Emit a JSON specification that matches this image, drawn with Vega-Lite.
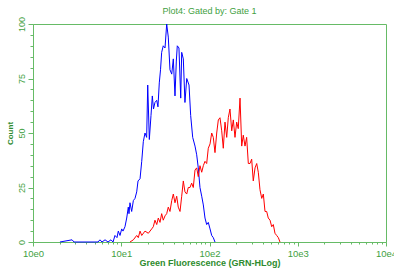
{
  "$schema": "https://vega.github.io/schema/vega-lite/v6.json",
  "width": 353,
  "height": 218,
  "autosize": {"type": "none"},
  "padding": {"left": 33, "top": 24, "right": 8, "bottom": 27},
  "background": "white",
  "title": {"text": "Plot4:  Gated by: Gate 1", "color": "#3f9f3f", "fontSize": 9, "fontWeight": "normal", "font": "Liberation Sans", "offset": 0},
  "config": {
    "view": {"stroke": "#66bb66", "strokeWidth": 1},
    "axis": {"domainColor": "#66bb66", "tickColor": "#66bb66", "labelColor": "#3f9f3f", "titleColor": "#2e8b2e", "labelFont": "Liberation Sans", "titleFont": "Liberation Sans", "grid": false, "zindex": 1}
  },
  "data": {"values": [
    {"series": "A", "fl": 2.02, "count": 0}, {"series": "A", "fl": 2.77, "count": 1}, {"series": "A", "fl": 2.92, "count": 0},
    {"series": "A", "fl": 5.45, "count": 0}, {"series": "A", "fl": 5.74, "count": 1}, {"series": "A", "fl": 6.05, "count": 0},
    {"series": "A", "fl": 6.55, "count": 1}, {"series": "A", "fl": 7.08, "count": 0}, {"series": "A", "fl": 7.65, "count": 1},
    {"series": "A", "fl": 8.07, "count": 0}, {"series": "A", "fl": 8.49, "count": 3}, {"series": "A", "fl": 8.95, "count": 2},
    {"series": "A", "fl": 9.26, "count": 5}, {"series": "A", "fl": 9.68, "count": 3}, {"series": "A", "fl": 10.12, "count": 6},
    {"series": "A", "fl": 10.47, "count": 5}, {"series": "A", "fl": 11.02, "count": 7}, {"series": "A", "fl": 11.53, "count": 11},
    {"series": "A", "fl": 12.02, "count": 16}, {"series": "A", "fl": 12.24, "count": 13}, {"series": "A", "fl": 12.56, "count": 18},
    {"series": "A", "fl": 13.13, "count": 14}, {"series": "A", "fl": 13.71, "count": 19}, {"series": "A", "fl": 14.32, "count": 20},
    {"series": "A", "fl": 14.97, "count": 23}, {"series": "A", "fl": 15.49, "count": 28}, {"series": "A", "fl": 16.33, "count": 29},
    {"series": "A", "fl": 17.06, "count": 37}, {"series": "A", "fl": 17.78, "count": 46}, {"series": "A", "fl": 18.58, "count": 50},
    {"series": "A", "fl": 19.41, "count": 48}, {"series": "A", "fl": 19.95, "count": 72}, {"series": "A", "fl": 20.8, "count": 47},
    {"series": "A", "fl": 21.73, "count": 58}, {"series": "A", "fl": 22.49, "count": 67}, {"series": "A", "fl": 23.19, "count": 61},
    {"series": "A", "fl": 24.1, "count": 64}, {"series": "A", "fl": 25.23, "count": 65}, {"series": "A", "fl": 26.06, "count": 62},
    {"series": "A", "fl": 26.98, "count": 73}, {"series": "A", "fl": 27.86, "count": 79}, {"series": "A", "fl": 28.71, "count": 87},
    {"series": "A", "fl": 29.92, "count": 90}, {"series": "A", "fl": 31.33, "count": 89}, {"series": "A", "fl": 32.73, "count": 100},
    {"series": "A", "fl": 34.12, "count": 94}, {"series": "A", "fl": 35.66, "count": 79}, {"series": "A", "fl": 37.33, "count": 77},
    {"series": "A", "fl": 38.9, "count": 84}, {"series": "A", "fl": 40.64, "count": 67}, {"series": "A", "fl": 42.07, "count": 83},
    {"series": "A", "fl": 43.15, "count": 90}, {"series": "A", "fl": 45.08, "count": 89}, {"series": "A", "fl": 47.2, "count": 66},
    {"series": "A", "fl": 48.4, "count": 87}, {"series": "A", "fl": 50.5, "count": 84}, {"series": "A", "fl": 52.7, "count": 64},
    {"series": "A", "fl": 55.2, "count": 75}, {"series": "A", "fl": 58.6, "count": 72}, {"series": "A", "fl": 61.2, "count": 58},
    {"series": "A", "fl": 64.5, "count": 48}, {"series": "A", "fl": 68.5, "count": 44}, {"series": "A", "fl": 71.6, "count": 40},
    {"series": "A", "fl": 74.6, "count": 34}, {"series": "A", "fl": 78.0, "count": 25}, {"series": "A", "fl": 81.6, "count": 21},
    {"series": "A", "fl": 85.1, "count": 17}, {"series": "A", "fl": 88.9, "count": 11}, {"series": "A", "fl": 92.9, "count": 8},
    {"series": "A", "fl": 96.9, "count": 9}, {"series": "A", "fl": 101.4, "count": 6}, {"series": "A", "fl": 105.9, "count": 3},
    {"series": "A", "fl": 110.4, "count": 2}, {"series": "A", "fl": 115.4, "count": 0},
    {"series": "B", "fl": 12.56, "count": 0}, {"series": "B", "fl": 13.71, "count": 1}, {"series": "B", "fl": 14.97, "count": 3},
    {"series": "B", "fl": 15.61, "count": 2}, {"series": "B", "fl": 16.33, "count": 5}, {"series": "B", "fl": 17.06, "count": 3},
    {"series": "B", "fl": 18.58, "count": 5}, {"series": "B", "fl": 20.27, "count": 4}, {"series": "B", "fl": 22.13, "count": 6},
    {"series": "B", "fl": 23.08, "count": 7}, {"series": "B", "fl": 24.1, "count": 10}, {"series": "B", "fl": 25.23, "count": 8},
    {"series": "B", "fl": 26.3, "count": 11}, {"series": "B", "fl": 27.48, "count": 9}, {"series": "B", "fl": 28.71, "count": 13},
    {"series": "B", "fl": 29.92, "count": 10}, {"series": "B", "fl": 31.33, "count": 12}, {"series": "B", "fl": 32.73, "count": 13},
    {"series": "B", "fl": 34.12, "count": 16}, {"series": "B", "fl": 35.66, "count": 14}, {"series": "B", "fl": 37.33, "count": 19},
    {"series": "B", "fl": 38.9, "count": 22}, {"series": "B", "fl": 40.64, "count": 18}, {"series": "B", "fl": 42.49, "count": 21},
    {"series": "B", "fl": 44.26, "count": 16}, {"series": "B", "fl": 46.34, "count": 14}, {"series": "B", "fl": 48.4, "count": 21},
    {"series": "B", "fl": 50.5, "count": 28}, {"series": "B", "fl": 52.7, "count": 23}, {"series": "B", "fl": 55.2, "count": 22},
    {"series": "B", "fl": 57.5, "count": 25}, {"series": "B", "fl": 60.1, "count": 25}, {"series": "B", "fl": 62.8, "count": 27},
    {"series": "B", "fl": 65.5, "count": 25}, {"series": "B", "fl": 68.5, "count": 33}, {"series": "B", "fl": 71.6, "count": 34},
    {"series": "B", "fl": 74.6, "count": 30}, {"series": "B", "fl": 78.0, "count": 35}, {"series": "B", "fl": 81.6, "count": 32},
    {"series": "B", "fl": 85.1, "count": 35}, {"series": "B", "fl": 88.9, "count": 37}, {"series": "B", "fl": 92.9, "count": 36},
    {"series": "B", "fl": 96.9, "count": 43}, {"series": "B", "fl": 101.4, "count": 45}, {"series": "B", "fl": 105.9, "count": 50},
    {"series": "B", "fl": 110.4, "count": 48}, {"series": "B", "fl": 115.4, "count": 41}, {"series": "B", "fl": 120.7, "count": 50},
    {"series": "B", "fl": 125.9, "count": 56}, {"series": "B", "fl": 131.5, "count": 57}, {"series": "B", "fl": 137.5, "count": 51},
    {"series": "B", "fl": 143.3, "count": 43}, {"series": "B", "fl": 149.9, "count": 55}, {"series": "B", "fl": 156.7, "count": 48},
    {"series": "B", "fl": 163.3, "count": 57}, {"series": "B", "fl": 170.6, "count": 61}, {"series": "B", "fl": 178.6, "count": 51},
    {"series": "B", "fl": 186.2, "count": 56}, {"series": "B", "fl": 194.5, "count": 48}, {"series": "B", "fl": 203.2, "count": 55},
    {"series": "B", "fl": 211.8, "count": 52}, {"series": "B", "fl": 221.8, "count": 66}, {"series": "B", "fl": 231.7, "count": 44},
    {"series": "B", "fl": 241.5, "count": 49}, {"series": "B", "fl": 252.5, "count": 44}, {"series": "B", "fl": 263.6, "count": 48},
    {"series": "B", "fl": 275.4, "count": 36}, {"series": "B", "fl": 287.7, "count": 36}, {"series": "B", "fl": 300.6, "count": 38},
    {"series": "B", "fl": 313.3, "count": 28}, {"series": "B", "fl": 328.1, "count": 34}, {"series": "B", "fl": 342.8, "count": 36},
    {"series": "B", "fl": 357.3, "count": 32}, {"series": "B", "fl": 373.3, "count": 24}, {"series": "B", "fl": 390.8, "count": 20},
    {"series": "B", "fl": 407.4, "count": 22}, {"series": "B", "fl": 425.6, "count": 14}, {"series": "B", "fl": 444.6, "count": 14},
    {"series": "B", "fl": 463.4, "count": 11}, {"series": "B", "fl": 485.3, "count": 10}, {"series": "B", "fl": 507.0, "count": 7},
    {"series": "B", "fl": 528.4, "count": 8}, {"series": "B", "fl": 552.1, "count": 4}, {"series": "B", "fl": 576.8, "count": 3},
    {"series": "B", "fl": 602.6, "count": 2}, {"series": "B", "fl": 629.5, "count": 0}
  ]},
  "mark": {"type": "line", "strokeWidth": 1, "interpolate": "linear"},
  "encoding": {
    "x": {
      "field": "fl", "type": "quantitative",
      "scale": {"type": "log", "domain": [1, 10000], "nice": false},
      "axis": {
        "title": "Green Fluorescence (GRN-HLog)",
        "titleFontSize": 9, "titleFontWeight": "bold", "titlePadding": 1,
        "labelFontSize": 9.5, "labelPadding": 2, "labelFlush": false, "labelOverlap": false,
        "values": [1,2,3,4,5,6,7,8,9,10,20,30,40,50,60,70,80,90,100,200,300,400,500,600,700,800,900,1000,2000,3000,4000,5000,6000,7000,8000,9000,10000],
        "labelExpr": "abs(log(datum.value)/LN10 - round(log(datum.value)/LN10)) < 0.001 ? '10e' + round(log(datum.value)/LN10) : ''",
        "tickSize": {"condition": {"test": "abs(log(datum.value)/LN10 - round(log(datum.value)/LN10)) < 0.001", "value": 4}, "value": 2}
      }
    },
    "y": {
      "field": "count", "type": "quantitative",
      "scale": {"domain": [0, 100], "nice": false},
      "axis": {
        "title": "Count", "titleFontSize": 8, "titleFontWeight": "bold", "titlePadding": 3,
        "labelFontSize": 9, "labelAngle": 270, "labelAlign": "center", "labelBaseline": "bottom", "labelPadding": 2,
        "values": [0,5,10,15,20,25,30,35,40,45,50,55,60,65,70,75,80,85,90,95,100],
        "labelExpr": "datum.value % 25 == 0 ? datum.label : ''",
        "tickSize": {"condition": {"test": "datum.value % 25 == 0", "value": 5}, "value": 3}
      }
    },
    "color": {"field": "series", "type": "nominal", "scale": {"domain": ["A", "B"], "range": ["#0000ff", "#ff0000"]}, "legend": null}
  }
}
